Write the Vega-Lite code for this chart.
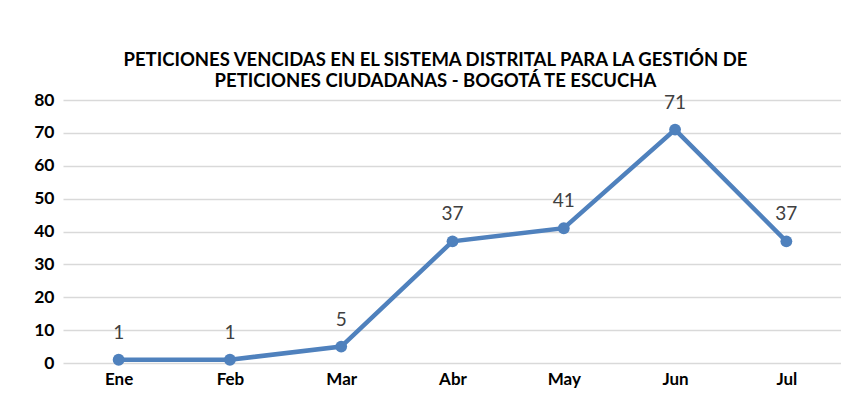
{
  "$schema": "https://vega.github.io/schema/vega-lite/v6.json",
  "width": 779,
  "height": 263,
  "autosize": {"type": "none"},
  "padding": {"left": 63, "top": 100, "right": 0, "bottom": 49},
  "background": "white",
  "title": {
    "text": ["PETICIONES VENCIDAS EN EL SISTEMA DISTRITAL PARA LA GESTIÓN DE", "PETICIONES CIUDADANAS - BOGOTÁ TE ESCUCHA"],
    "font": "Lato",
    "fontSize": 18.5,
    "fontWeight": "bold",
    "color": "#000000",
    "anchor": "middle",
    "dx": -17,
    "offset": 1,
    "lineHeight": 21
  },
  "data": {
    "values": [
      {"mes": "Ene", "valor": 1},
      {"mes": "Feb", "valor": 1},
      {"mes": "Mar", "valor": 5},
      {"mes": "Abr", "valor": 37},
      {"mes": "May", "valor": 41},
      {"mes": "Jun", "valor": 71},
      {"mes": "Jul", "valor": 37}
    ]
  },
  "encoding": {
    "x": {
      "field": "mes",
      "type": "ordinal",
      "sort": null,
      "scale": {"type": "point", "padding": 0.5},
      "axis": {
        "title": null,
        "labelAngle": 0,
        "labelFont": "Lato",
        "labelFontSize": 17,
        "labelFontWeight": "bold",
        "labelColor": "#000000",
        "labelPadding": 8,
        "domain": false,
        "ticks": false,
        "grid": false
      }
    },
    "y": {
      "field": "valor",
      "type": "quantitative",
      "scale": {"domain": [0, 80], "nice": false},
      "axis": {
        "title": null,
        "values": [0, 10, 20, 30, 40, 50, 60, 70, 80],
        "labelFont": "Lato",
        "labelFontSize": 17.5,
        "labelFontWeight": "bold",
        "labelColor": "#000000",
        "labelPadding": 9,
        "domain": false,
        "ticks": false,
        "grid": true,
        "gridColor": "#D9D9D9",
        "gridWidth": 1.5
      }
    }
  },
  "layer": [
    {
      "mark": {"type": "line", "color": "#4F81BD", "strokeWidth": 4.5, "point": {"filled": true, "size": 140, "color": "#4F81BD"}}
    },
    {
      "mark": {"type": "text", "dy": -27, "font": "Lato", "fontSize": 19, "color": "#404040"},
      "encoding": {"text": {"field": "valor", "type": "quantitative"}}
    }
  ],
  "config": {"view": {"stroke": null}}
}
